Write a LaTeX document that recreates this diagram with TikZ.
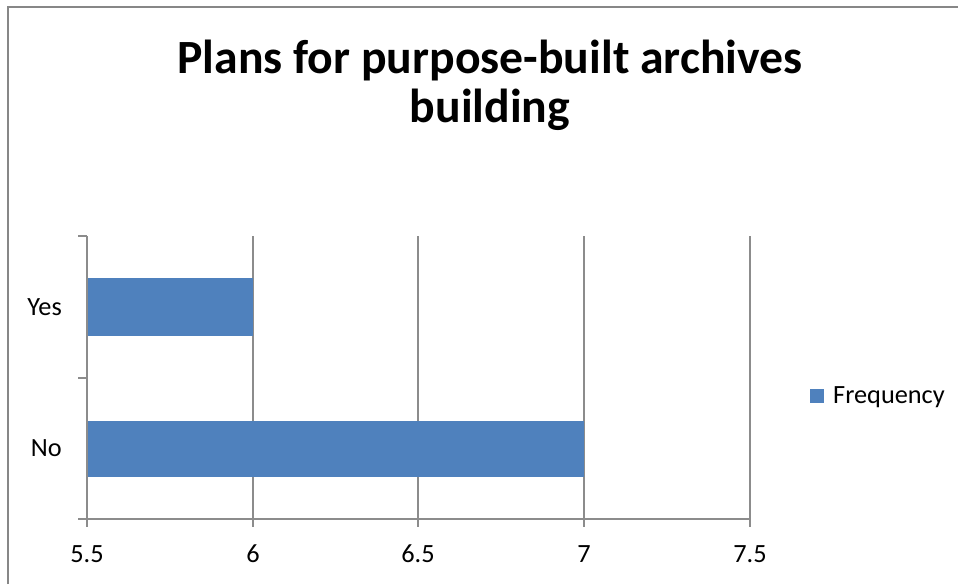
\documentclass[tikz,border=0pt]{standalone}
\usepackage{fontspec}
\setmainfont{Carlito}
\definecolor{barblue}{HTML}{4F81BD}
\definecolor{gridgray}{HTML}{8C8C8C}
\definecolor{framegray}{HTML}{878787}
\tikzset{
  gridline/.style={draw=gridgray, line width=1.5pt},
  frameline/.style={draw=framegray, line width=1.5pt},
  bar/.style={fill=barblue, draw=none},
  ticklabel/.style={font=\fontsize{26.3}{31}\selectfont, inner sep=0pt, anchor=base},
  titletext/.style={font=\fontsize{47.7}{57}\selectfont\bfseries, inner sep=0pt, anchor=base}
}
\begin{document}
\begin{tikzpicture}[x=1pt,y=-1pt]
\useasboundingbox (0,0) rectangle (958,584);
\fill[white] (0,0) rectangle (958,584);
% chart frame
\draw[frameline] (8,584) -- (8,7) -- (958,7);
% title
\node[titletext] (t1) at (490,73) {Plans for purpose-built archives};
\node[titletext] (t2) at (490,122) {building};
% gridlines
\foreach \x in {253,418,584,750} \draw[gridline] (\x,236) -- (\x,527);
% bars
\fill[bar] (87,278) rectangle (253,336);
\fill[bar] (87,421) rectangle (584,477);
% axes
\draw[gridline] (87,236) -- (87,527);
\draw[gridline] (87,519) -- (750,519);
\foreach \y in {236,378,519} \draw[gridline] (78,\y) -- (87,\y);
% tick labels
\node[ticklabel] (l55) at (87,562) {5.5};
\node[ticklabel] (l6) at (253,562) {6};
\node[ticklabel] (l65) at (418,562) {6.5};
\node[ticklabel] (l7) at (584,562) {7};
\node[ticklabel] (l75) at (750,562) {7.5};
\node[ticklabel, anchor=base east] (yes) at (62,315) {Yes};
\node[ticklabel, anchor=base east] (no) at (62,456) {No};
% legend
\fill[bar] (810,389) rectangle (824,403);
\node[ticklabel, anchor=base west] (leg) at (833,403) {Frequency};
\end{tikzpicture}
\end{document}
